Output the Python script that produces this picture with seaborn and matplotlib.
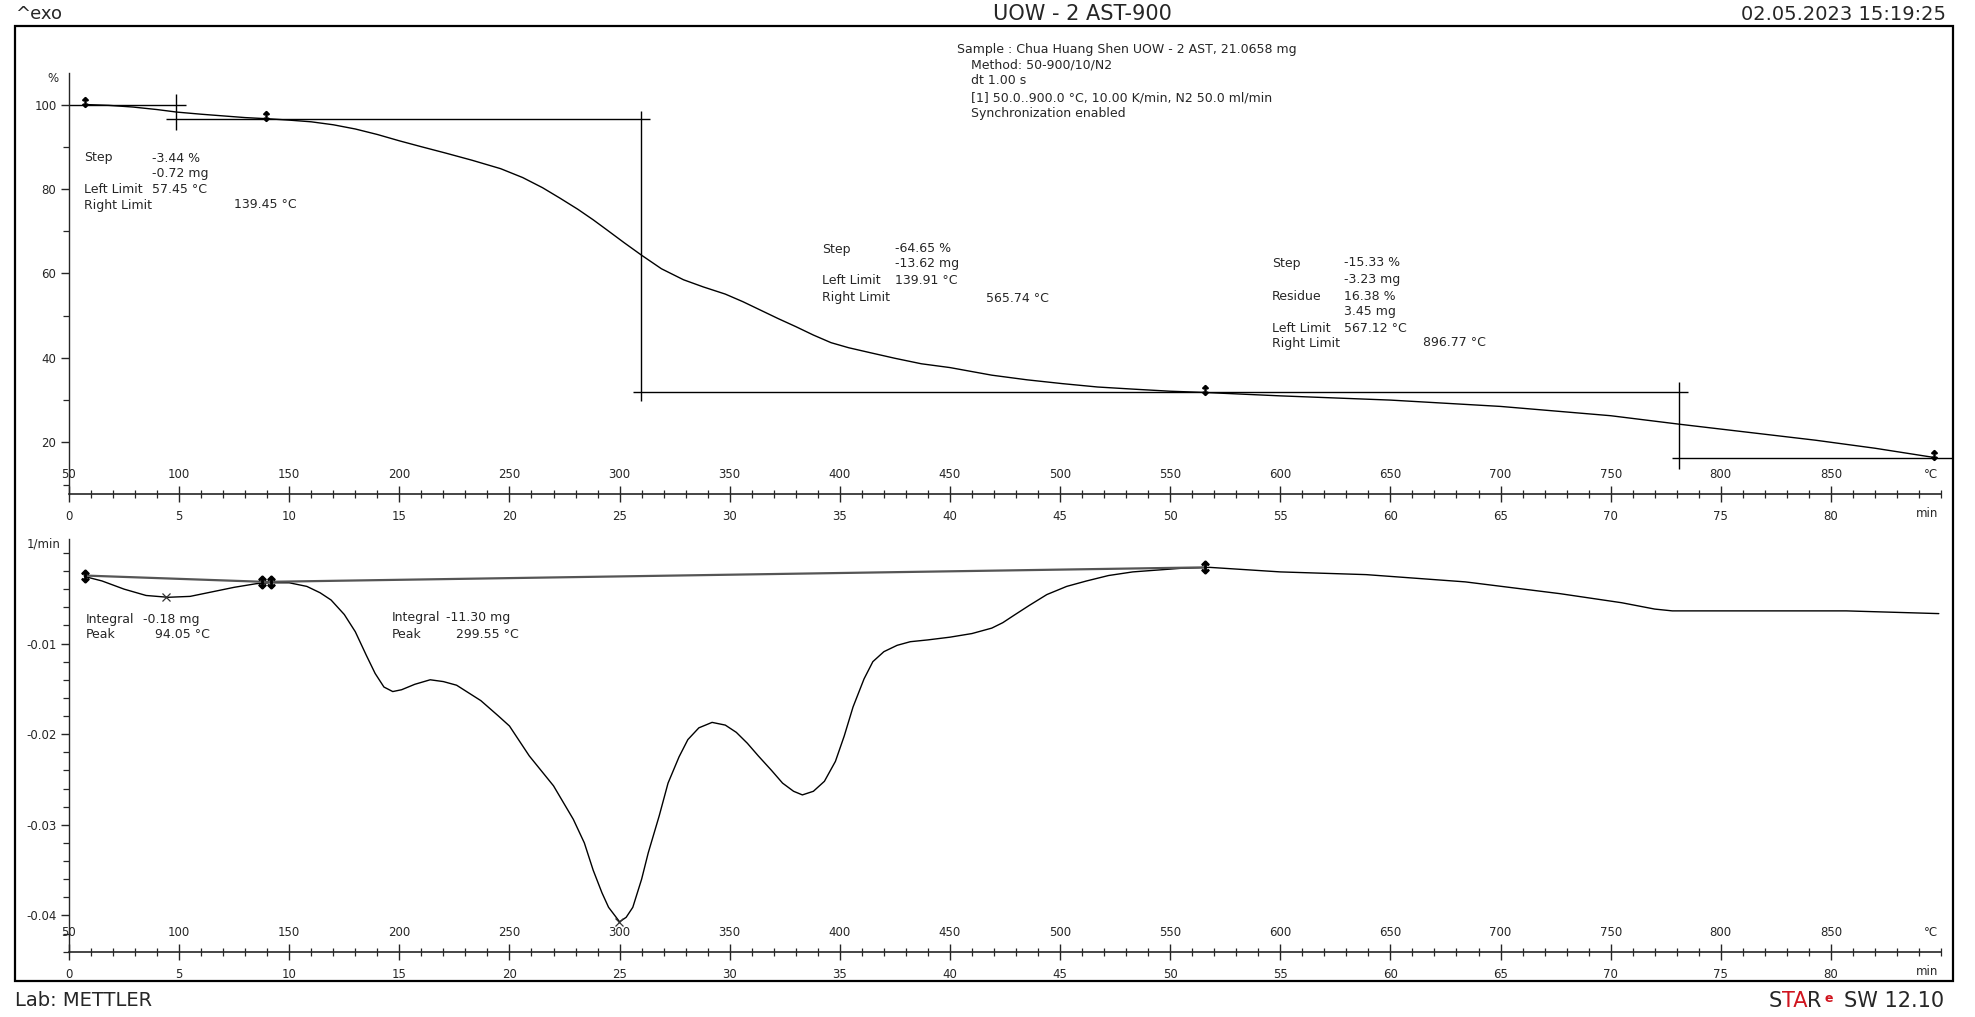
#!/usr/bin/env python3
"""Recreate a METTLER STARe TGA / DTG report page."""

import matplotlib
matplotlib.use("Agg")
import matplotlib.pyplot as plt
import seaborn as sns
from matplotlib.patches import Rectangle
from matplotlib.ticker import FixedLocator, MultipleLocator

# TG curve: weight (%) against temperature (degC)
tg_temp = [57, 68, 79, 90, 99, 110, 120, 130, 141, 150, 160, 170, 180, 190,
           200, 210, 221, 233, 246, 256, 265, 273, 281, 288, 294, 302, 310,
           319, 329, 338, 348, 356, 364, 372, 380, 388, 396, 404, 414, 425,
           437, 450, 469, 485, 501, 517, 533, 550, 566, 600, 650, 700, 750,
           781, 812, 843, 870, 897]
tg_pct = [100.0, 99.8, 99.4, 98.8, 98.2, 97.7, 97.3, 96.9, 96.6, 96.3, 95.9,
          95.2, 94.2, 92.9, 91.4, 90.0, 88.5, 86.8, 84.8, 82.7, 80.3, 77.8,
          75.2, 72.7, 70.4, 67.3, 64.3, 61.1, 58.5, 56.8, 55.1, 53.3, 51.3,
          49.3, 47.4, 45.4, 43.6, 42.4, 41.2, 39.9, 38.6, 37.7, 35.9, 34.8,
          33.9, 33.1, 32.6, 32.1, 31.8, 31.0, 30.0, 28.5, 26.3, 24.3, 22.4,
          20.5, 18.6, 16.4]

# DTG curve: 1/min against temperature (degC)
dtg_temp = [57, 65, 75, 85, 95, 105, 115, 125, 135, 141, 150, 158, 164, 169,
            175, 180, 185, 189, 193, 197, 201, 207, 214, 220, 226, 237, 245,
            250, 259, 265, 270, 279, 284, 288, 292, 295, 300, 303, 306, 310,
            313, 318, 322, 327, 331, 336, 342, 348, 353, 358, 363, 369, 374,
            379, 383, 388, 393, 398, 402, 406, 411, 415, 420, 426, 432, 440,
            450, 460, 469, 474, 479, 486, 494, 503, 512, 522, 533, 555, 568,
            600, 639, 684, 727, 755, 770, 778, 857, 899]
dtg_val = [-0.0026, -0.0031, -0.0040, -0.0047, -0.0049, -0.0048, -0.0043,
           -0.0038, -0.0034, -0.0033, -0.0033, -0.0037, -0.0044, -0.0052,
           -0.0068, -0.0087, -0.0113, -0.0133, -0.0148, -0.0153, -0.0151,
           -0.0145, -0.0140, -0.0142, -0.0146, -0.0163, -0.0180, -0.0191,
           -0.0224, -0.0242, -0.0257, -0.0294, -0.0320, -0.0350, -0.0375,
           -0.0391, -0.0407, -0.0402, -0.0391, -0.0360, -0.0331, -0.0290,
           -0.0254, -0.0225, -0.0206, -0.0193, -0.0187, -0.0190, -0.0198,
           -0.0210, -0.0224, -0.0240, -0.0254, -0.0263, -0.0267, -0.0263,
           -0.0252, -0.0230, -0.0202, -0.0170, -0.0139, -0.0120, -0.0109,
           -0.0102, -0.0098, -0.0096, -0.0093, -0.0089, -0.0083, -0.0077,
           -0.0069, -0.0058, -0.0046, -0.0037, -0.0031, -0.0025, -0.0021,
           -0.0017, -0.0016, -0.0021, -0.0024, -0.0032, -0.0045, -0.0055,
           -0.0062, -0.0064, -0.0064, -0.0067]

# DTG integration baseline
base_temp = [57, 139, 566]
base_val = [-0.0025, -0.0032, -0.0016]

# step evaluation lines on the TG curve
step_h_val = [100.0, 96.56, 31.91, 16.38]
step_h_from = [50, 94, 306, 778]
step_h_to = [103, 314, 785, 905]
step_v_temp = [98.6, 309.7, 781]
step_v_low = [94.0, 29.9, 13.7]
step_v_high = [102.4, 98.5, 34.3]

# limit markers and peaks
tg_mark_temp = [57.45, 139.45, 565.74, 896.77]
tg_mark_val = [100.6, 97.2, 32.5, 17.0]
dtg_mark_temp = [57.45, 137.5, 141.5, 565.74]
dtg_mark_val = [-0.0025, -0.0032, -0.0032, -0.0016]
peak_temp = [94.05, 299.55]
peak_val = [-0.0049, -0.0407]

# axis scales
temp_ticks = [50, 100, 150, 200, 250, 300, 350, 400, 450, 500, 550, 600, 650,
              700, 750, 800, 850]
temp_labels = [str(t) for t in temp_ticks]
time_labels = ['0', '5', '10', '15', '20', '25', '30', '35', '40', '45', '50',
               '55', '60', '65', '70', '75', '80']
tg_yticks = [20, 40, 60, 80, 100]
dtg_yticks = [-0.04, -0.03, -0.02, -0.01]
dtg_ylabels = ['-0.04', '-0.03', '-0.02', '-0.01']

W, H = 1975, 1017


def fx(x):
    return x / W


def fy(y):
    return 1 - y / H


def txt(x, y, s, size=9, **kw):
    return fig.text(fx(x), fy(y), s, fontsize=size, va='center', **kw)


sns.set_style("ticks")
plt.rcParams['font.family'] = ['DejaVu Sans']

fig = plt.figure(figsize=(W / 100, H / 100), dpi=100)
ax1 = fig.add_axes([fx(69), fy(494), (1941 - 69) / W, (494 - 73) / H])
ax2 = fig.add_axes([fx(69), fy(952), (1941 - 69) / W, (952 - 539) / H])

# curves
sns.lineplot(x=tg_temp, y=tg_pct, ax=ax1, color='black', linewidth=1.0,
             sort=False, estimator=None)
sns.lineplot(x=dtg_temp, y=dtg_val, ax=ax2, color='black', linewidth=1.0,
             sort=False, estimator=None)
sns.lineplot(x=base_temp, y=base_val, ax=ax2, color='#555555', linewidth=1.6,
             sort=False, estimator=None)

# step lines
ax1.hlines(step_h_val, step_h_from, step_h_to, color='black', lw=1.0,
           clip_on=False)
ax1.vlines(step_v_temp, step_v_low, step_v_high, color='black', lw=1.0)
ax1.plot(tg_mark_temp, tg_mark_val, ls='none', marker=r'$\updownarrow$',
         ms=7, color='black')
ax2.plot(dtg_mark_temp, dtg_mark_val, ls='none', marker=r'$\updownarrow$',
         ms=9, color='black')
ax2.plot(peak_temp, peak_val, ls='none', marker='x', ms=6, mew=0.9,
         color='#333333')

# axes styling
for ax, ylo, yhi in [(ax1, 7.76, 107.46), (ax2, -0.04403, 0.00153)]:
    ax.set_xlim(50, 900)
    ax.set_ylim(ylo, yhi)
    ax.set_facecolor('white')
    sns.despine(ax=ax, top=True, right=True)
    ax.spines['left'].set_linewidth(1.0)
    ax.spines['bottom'].set_linewidth(1.2)
    ax.xaxis.set_major_locator(FixedLocator(temp_ticks))
    ax.set_xticklabels(time_labels)
    ax.xaxis.set_minor_locator(MultipleLocator(10))
    ax.tick_params(axis='x', which='major', direction='inout', length=11,
                   width=1.0, pad=6, labelsize=8.5)
    ax.tick_params(axis='x', which='minor', direction='inout', length=6,
                   width=0.9)
    ax.tick_params(axis='y', which='major', direction='out', length=6,
                   width=1.0, pad=3, labelsize=8.5)
    ax.tick_params(axis='y', which='minor', direction='out', length=4,
                   width=0.9)
    ax.set_xlabel('')
    ax.set_ylabel('')
    for t, lab in zip(temp_ticks, temp_labels):
        ax.annotate(lab, xy=(t, 0), xycoords=ax.get_xaxis_transform(),
                    xytext=(0, 14), textcoords='offset points',
                    ha='center', va='center', fontsize=8.5)
    ax.annotate('°C', xy=(895.5, 0), xycoords=ax.get_xaxis_transform(),
                xytext=(0, 14), textcoords='offset points',
                ha='center', va='center', fontsize=8.5)
    ax.annotate('min', xy=(893.8, 0), xycoords=ax.get_xaxis_transform(),
                xytext=(0, -14), textcoords='offset points',
                ha='center', va='center', fontsize=8.5)

ax1.yaxis.set_major_locator(FixedLocator(tg_yticks))
ax1.yaxis.set_minor_locator(MultipleLocator(10))
ax2.yaxis.set_major_locator(FixedLocator(dtg_yticks))
ax2.set_yticklabels(dtg_ylabels)
ax2.yaxis.set_minor_locator(MultipleLocator(0.002))

# unit labels on the y axes
txt(53, 78, '%', size=8.5, ha='center')
txt(44, 544, '1/min', size=8.5, ha='center')

# header / footer
txt(15, 14, '^exo', size=13, ha='left')
txt(1082, 14, 'UOW - 2 AST-900', size=15, ha='center')
txt(1946, 14, '02.05.2023 15:19:25', size=14, ha='right')
txt(15, 1001, 'Lab: METTLER', size=14, ha='left')

t_sw = fig.text(fx(1944), fy(1001), 'SW 12.10', fontsize=15, ha='right',
                va='center')
t_r = ax2.annotate('R', xy=(0, 0), xycoords=t_sw, xytext=(-16, 0),
                   textcoords='offset points', ha='right', va='bottom',
                   fontsize=15, annotation_clip=False)
ax2.annotate('e', xy=(1, 1), xycoords=t_r, xytext=(2, -1),
             textcoords='offset points', ha='left', va='top', fontsize=9,
             color='#d0141e', fontweight='bold', annotation_clip=False)
t_ta = ax2.annotate('TA', xy=(0, 0), xycoords=t_r, xytext=(0, 0),
                    textcoords='offset points', ha='right', va='bottom',
                    fontsize=15, color='#d0141e', annotation_clip=False)
ax2.annotate('S', xy=(0, 0), xycoords=t_ta, xytext=(0, 0),
             textcoords='offset points', ha='right', va='bottom',
             fontsize=15, annotation_clip=False)

# method block
txt(957, 49, 'Sample : Chua Huang Shen UOW - 2 AST, 21.0658 mg')
txt(971, 65, 'Method: 50-900/10/N2')
txt(971, 81, 'dt 1.00 s')
txt(971, 98, '[1] 50.0..900.0 °C, 10.00 K/min, N2 50.0 ml/min')
txt(971, 114, 'Synchronization enabled')

# step results
txt(84, 158, 'Step')
txt(152, 158, '-3.44 %')
txt(152, 173, '-0.72 mg')
txt(84, 189, 'Left Limit')
txt(152, 189, '57.45 °C')
txt(84, 205, 'Right Limit')
txt(234, 205, '139.45 °C')

txt(822, 249, 'Step')
txt(895, 249, '-64.65 %')
txt(895, 264, '-13.62 mg')
txt(822, 281, 'Left Limit')
txt(895, 281, '139.91 °C')
txt(822, 298, 'Right Limit')
txt(986, 298, '565.74 °C')

txt(1272, 263, 'Step')
txt(1344, 263, '-15.33 %')
txt(1344, 279, '-3.23 mg')
txt(1272, 296, 'Residue')
txt(1344, 296, '16.38 %')
txt(1344, 312, '3.45 mg')
txt(1272, 328, 'Left Limit')
txt(1344, 328, '567.12 °C')
txt(1272, 343, 'Right Limit')
txt(1423, 343, '896.77 °C')

# peak results
txt(86, 620, 'Integral')
txt(143, 620, '-0.18 mg')
txt(86, 635, 'Peak')
txt(155, 635, '94.05 °C')
txt(392, 618, 'Integral')
txt(446, 618, '-11.30 mg')
txt(392, 634, 'Peak')
txt(456, 634, '299.55 °C')

# page frame
fig.add_artist(Rectangle((fx(15), fy(981)), (1953 - 15) / W, (981 - 26) / H,
                         transform=fig.transFigure, fill=False, lw=1.6,
                         ec='black'))

fig.savefig('out.png', dpi=100, facecolor='white')
plt.close(fig)
